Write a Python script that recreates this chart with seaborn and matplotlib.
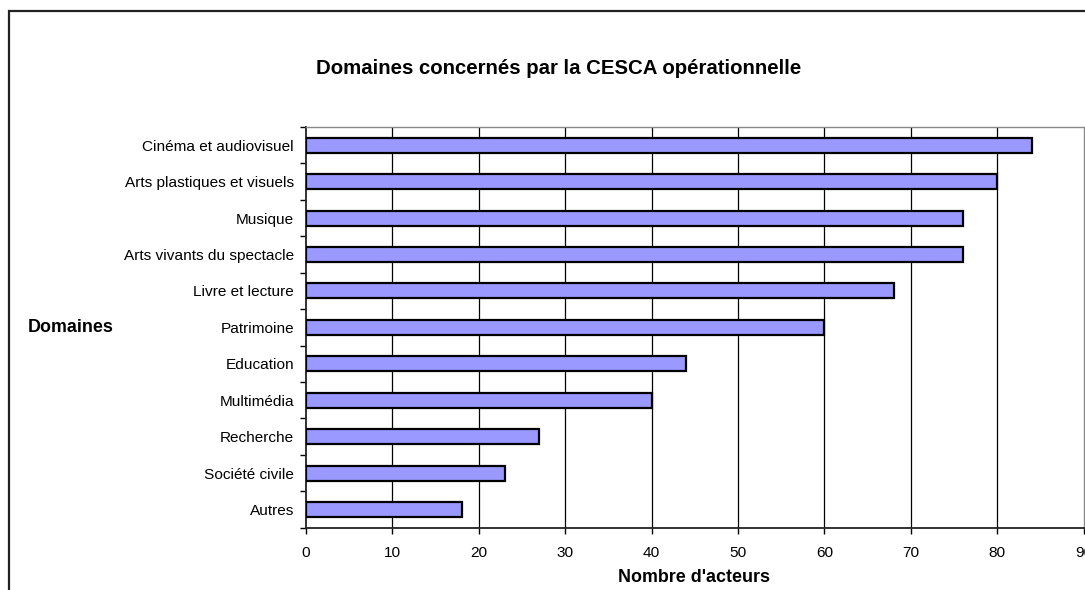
import matplotlib
matplotlib.use("Agg")
import matplotlib.pyplot as plt
import seaborn as sns
import pandas as pd
import numpy as np
from matplotlib.patches import Rectangle

domaines = [
    "Cinéma et audiovisuel",
    "Arts plastiques et visuels",
    "Musique",
    "Arts vivants du spectacle",
    "Livre et lecture",
    "Patrimoine",
    "Education",
    "Multimédia",
    "Recherche",
    "Société civile",
    "Autres",
]
acteurs = [84, 80, 76, 76, 68, 60, 44, 40, 27, 23, 18]
x_ticks = [0, 10, 20, 30, 40, 50, 60, 70, 80, 90]

sns.set_theme(style="white")
plt.rcParams["font.family"] = ["Liberation Sans", "DejaVu Sans"]
plt.rcParams["text.color"] = "black"
plt.rcParams["xtick.color"] = "black"
plt.rcParams["ytick.color"] = "black"
plt.rcParams["axes.labelcolor"] = "black"

df = pd.DataFrame({"Domaine": domaines, "Acteurs": acteurs})

W, H = 1085, 590
fig = plt.figure(figsize=(W / 100, H / 100), dpi=100)
fig.patch.set_facecolor("white")

# chart frame (left and top edges visible)
fig.patches.append(Rectangle((9 / W, -0.1), 1.2, (H - 10.5) / H + 0.1,
                             transform=fig.transFigure, fill=False,
                             edgecolor="#222222", linewidth=1.6, zorder=0))

left, right = 306 / W, 1083.7 / W
bottom, top = (H - 527.7) / H, (H - 127) / H
ax = fig.add_axes([left, bottom, right - left, top - bottom])

sns.barplot(data=df, x="Acteurs", y="Domaine", orient="h", order=domaines,
            color="#9999FF", saturation=1, edgecolor="black", linewidth=1.6,
            width=0.41, ax=ax, zorder=3)

ax.set_xlim(0, 90)
ax.set_ylim(len(domaines) - 0.5, -0.5)
ax.set_xticks(x_ticks)
ax.set_xticklabels([str(v) for v in x_ticks], fontsize=11.1)
ax.tick_params(axis="x", direction="out", length=4, width=1, color="black",
               bottom=True, pad=9, labelcolor="black")

ax.set_yticks(range(len(domaines)))
ax.set_yticklabels(domaines, fontsize=11.1)
ax.tick_params(axis="y", which="major", length=0, pad=8.6, labelcolor="black")
ax.set_yticks(np.arange(-0.5, len(domaines)), minor=True)
ax.tick_params(axis="y", which="minor", direction="out", length=4, width=1,
               color="black", left=True)

for v in x_ticks[1:-1]:
    ax.axvline(v, color="black", linewidth=0.9, zorder=1)

for side in ["left", "bottom"]:
    ax.spines[side].set_color("#222222")
    ax.spines[side].set_linewidth(1.3)
for side in ["top", "right"]:
    ax.spines[side].set_color("#888888")
    ax.spines[side].set_linewidth(1.0)

ax.set_xlabel("")
ax.set_ylabel("")

fig.text(559 / W, 1 - 69 / H, "Domaines concernés par la CESCA opérationnelle",
         ha="center", va="center", fontsize=14.7, fontweight="bold", color="black")
fig.text(694 / W, 1 - 578 / H, "Nombre d'acteurs", ha="center", va="center",
         fontsize=12.9, fontweight="bold", color="black")
fig.text(28 / W, 1 - 327 / H, "Domaines", ha="left", va="center",
         fontsize=12.9, fontweight="bold", color="black")

fig.savefig("out.png", dpi=100)
